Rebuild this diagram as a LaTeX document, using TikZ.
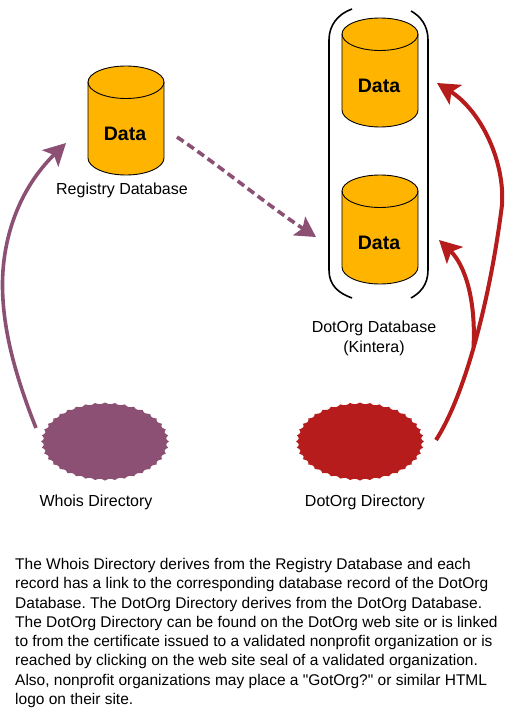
\documentclass[tikz,border=0pt]{standalone}
\usepackage{fontspec}
\setmainfont{Liberation Sans}
\newfontfamily\plainfont{Liberation Sans}
\usetikzlibrary{arrows.meta}
\definecolor{cylfill}{HTML}{FFB400}
\definecolor{plum}{HTML}{8B5073}
\definecolor{brick}{HTML}{B71C1C}
\frenchspacing
\tikzset{
  x=1pt,y=-1pt,
  caption/.style={font=\fontsize{16}{20}\selectfont,inner sep=0pt,align=center},
  datalabel/.style={font=\fontsize{19.5}{22}\selectfont\bfseries,inner sep=0pt},
  headtip/.style={-{Stealth[length=22pt,width=23pt,inset=5pt]}},
  plumline/.style={draw=plum,line width=3.6pt,headtip},
  brickline/.style={draw=brick,line width=4pt,headtip},
  bracket/.style={draw=black,line width=1.6pt},
  dbcyl/.pic={
    \filldraw[fill=cylfill,draw=black,line width=0.9pt]
      (-38,16) -- (-38,92) arc[start angle=180,end angle=360,x radius=38pt,y radius=17pt] -- (38,16)
      arc[start angle=0,end angle=180,x radius=38pt,y radius=16pt] -- cycle;
    \draw[line width=0.9pt] (-38,16) arc[start angle=180,end angle=360,x radius=38pt,y radius=16.5pt];
    \node[datalabel] (-label) at (-1,67.5) {Data};
  }
}
\newcommand{\burst}[4]{\fill[#4] plot[samples=361,domain=0:360] ({#1+#3*64*(1-0.04*abs(sin(20*\x)))*cos(\x)},{#2+39*(1-0.04*abs(sin(20*\x)))*sin(\x)});}
\begin{document}
\begin{tikzpicture}
\useasboundingbox (0,0) rectangle (518,709);
% cylinders
\pic (reg) at (126,66) {dbcyl};
\pic (dbtop) at (380,18) {dbcyl};
\pic (dblow) at (380,175) {dbcyl};
% brackets
\coordinate (bl1) at (352,9);
\coordinate (bl2) at (352,298);
\coordinate (br1) at (411,11);
\coordinate (br2) at (411,298);
\draw[bracket] (bl1) .. controls (338,14) and (329,25) .. (329,40) -- (329,270) .. controls (329,285) and (338,293) .. (bl2);
\draw[bracket] (br1) .. controls (420,16) and (428,25) .. (428,40) -- (428,270) .. controls (428,285) and (420,293) .. (br2);
% bursts
\burst{105}{441.5}{1}{plum}
\burst{360}{441.5}{1}{brick}
% labels
\node[caption] (lreg) at (122,190) {Registry Database};
\node[caption] (ldb) at (374,338) {DotOrg Database\\(Kintera)};
\node[caption] (lwhois) at (96,502) {Whois Directory};
\node[caption] (ldir) at (365,502) {DotOrg Directory};
% connectors
\coordinate (whoisout) at (36,428);
\coordinate (purplemid) at (2.5,287);
\coordinate (purpletip) at (66,143);
\draw[plumline] (whoisout) .. controls (15,375) and (3,330) .. (purplemid) .. controls (2,240) and (18,190) .. (purpletip);
\coordinate (dashstart) at (177,137);
\coordinate (dashtip) at (316,237);
\draw[plum,line width=3.6pt,dash pattern=on 8pt off 4.5pt,-{Stealth[length=20pt,width=22pt,inset=4pt]}] (dashstart) .. controls (220,166) and (270,207) .. (dashtip);
\coordinate (dirout) at (436,440);
\coordinate (redmid) at (502,205);
\coordinate (redtip) at (437,83);
\coordinate (redsplit) at (473.5,347);
\coordinate (redtiptwo) at (439,240);
\draw[brickline] (dirout) .. controls (465,395) and (490,300) .. (redmid) .. controls (505,160) and (480,110) .. (redtip);
\draw[brickline] (redsplit) .. controls (476,300) and (465,265) .. (redtiptwo);
% paragraph
\node[anchor=north west,inner sep=0pt,align=left,font=\plainfont\fontsize{15.5}{19.3}\selectfont] (para) at (15,558) {The Whois Directory derives from the Registry Database and each\\
record has a link to the corresponding database record of the DotOrg\\
Database. The DotOrg Directory derives from the DotOrg Database.\\
The DotOrg Directory can be found on the DotOrg web site or is linked\\
to from the certificate issued to a validated nonprofit organization or is\\
reached by clicking on the web site seal of a validated organization.\\
Also, nonprofit organizations may place a "GotOrg?" or similar HTML\\
logo on their site.};
\end{tikzpicture}
\end{document}
